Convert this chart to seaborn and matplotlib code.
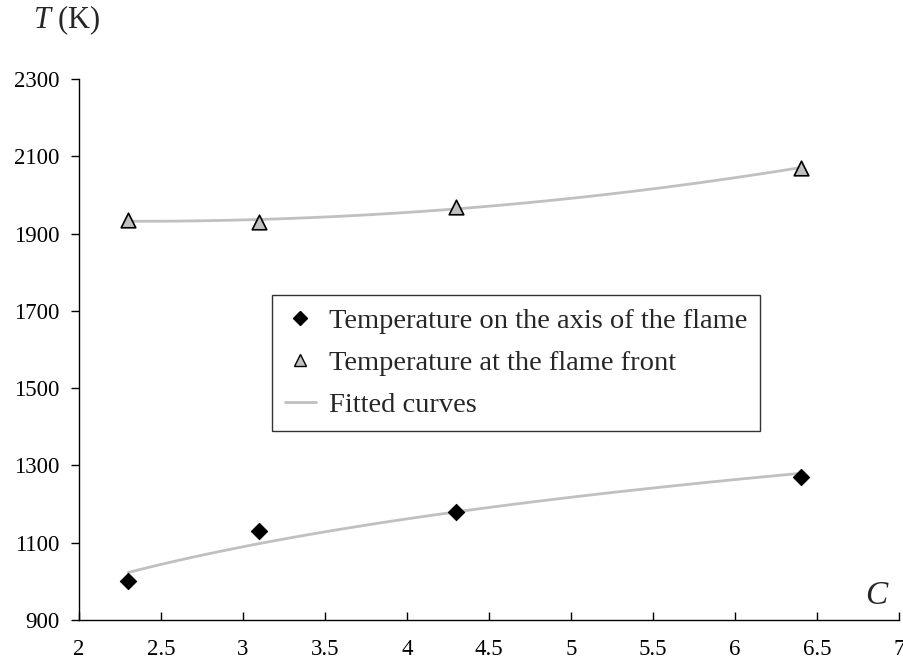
import numpy as np
import matplotlib
matplotlib.use("Agg")
import matplotlib.pyplot as plt
import seaborn as sns
from matplotlib.lines import Line2D

# data
conc = [2.3, 3.1, 4.3, 6.4]
t_axis = [1000, 1130, 1180, 1270]
t_front = [1935, 1930, 1968, 2070]
xticks = [2, 2.5, 3, 3.5, 4, 4.5, 5, 5.5, 6, 6.5, 7]
yticks = [900, 1100, 1300, 1500, 1700, 1900, 2100, 2300]

sns.set_style("ticks")
plt.rcParams['font.family'] = ['Liberation Serif', 'DejaVu Serif']
plt.rcParams['mathtext.fontset'] = 'custom'
plt.rcParams['mathtext.it'] = 'Liberation Serif:italic'
plt.rcParams['mathtext.rm'] = 'Liberation Serif'

fig = plt.figure(figsize=(9.04, 6.70), dpi=100)
ax = fig.add_axes([79 / 904, 50 / 670, 820 / 904, 541 / 670])

fit_col = '#c0c0c0'
# fitted curves
sns.regplot(x=conc, y=t_axis, logx=True, scatter=False, ci=None, ax=ax,
            line_kws=dict(color=fit_col, lw=2))
sns.regplot(x=conc, y=t_front, order=2, scatter=False, ci=None, ax=ax,
            line_kws=dict(color=fit_col, lw=2))

sns.scatterplot(x=conc, y=t_axis, marker='D', color='black', s=70,
                edgecolor='black', ax=ax, zorder=3)
sns.scatterplot(x=conc, y=t_front, marker='^', color='#c0c0c0', s=110,
                edgecolor='black', linewidth=1.2, ax=ax, zorder=3)

ax.set_xlim(2, 7)
ax.set_ylim(900, 2300)
ax.set_xticks(xticks)
ax.set_xticklabels([f'{v:g}' for v in xticks])
ax.set_yticks(yticks)
for s in ['top', 'right']:
    ax.spines[s].set_visible(False)
for s in ['left', 'bottom']:
    ax.spines[s].set_color('black')
    ax.spines[s].set_linewidth(1.0)
ax.tick_params(axis='x', direction='in', length=6, width=1, pad=14,
               labelsize=16.5, colors='black')
ax.tick_params(axis='y', direction='out', length=6, width=1, pad=8,
               labelsize=16.5, colors='black')
ax.grid(False)

handles = [
    Line2D([], [], ls='none', marker='D', color='black', markersize=7),
    Line2D([], [], ls='none', marker='^', markerfacecolor='#c0c0c0',
           markeredgecolor='black', markersize=8),
    Line2D([], [], color=fit_col, lw=2),
]
labels = ['Temperature on the axis of the flame',
          'Temperature at the flame front',
          'Fitted curves']
leg = ax.legend(handles, labels, loc='upper left',
                bbox_to_anchor=(0.235, 0.600), borderaxespad=0,
                fontsize=20.5, frameon=True,
                fancybox=False, edgecolor='black', handlelength=1.1,
                handletextpad=0.45, borderpad=0.45, labelspacing=0.56)
leg.get_frame().set_linewidth(1.0)

fig.text(33 / 904, 1 - 20 / 670, r'$T$ (K)', fontsize=22, va='center',
         ha='left')
ax.text(0.972, 0.045, 'C', style='italic', fontsize=24,
        transform=ax.transAxes, ha='center', va='center')

fig.savefig('out.png', dpi=100)
